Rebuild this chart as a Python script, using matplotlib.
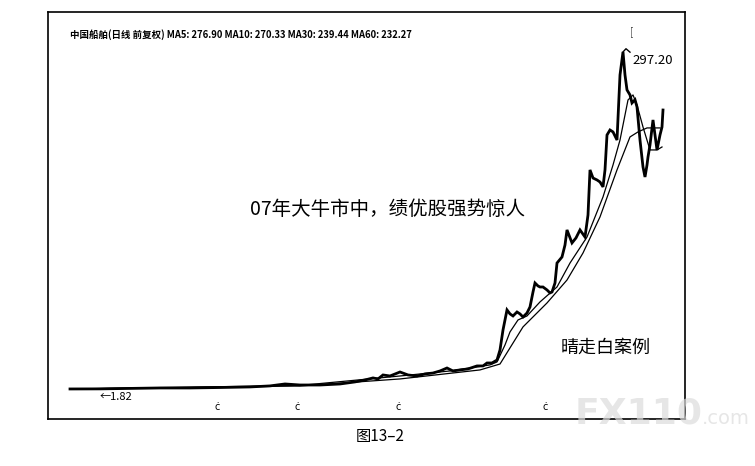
import matplotlib.pyplot as plt

plt.rcParams['font.family'] = ['Noto Sans CJK SC', 'DejaVu Sans']

# trading day index and close (front-adjusted)
days = [0, 30, 60, 90, 120, 150, 180, 200, 215, 230, 250, 270, 285, 295, 303, 308,
        313, 320, 330, 338, 347, 355, 363, 370, 377, 383, 390, 398, 407, 413, 417,
        422, 427, 430, 433, 435, 437, 440, 443, 447, 450, 453, 457, 460, 463, 465,
        468, 470, 473, 477, 480, 482, 485, 487, 492, 495, 497, 502, 506, 510, 515,
        518, 520, 523, 527, 530, 533, 535, 537, 540, 543, 547, 550, 553, 555, 557,
        560, 562, 565, 567, 570, 573, 575, 577, 578, 580, 583, 585, 587, 590, 592, 593]
close = [1.82, 1.9, 2.3, 2.7, 2.7, 3.1, 3.6, 4.5, 6.2, 5.3, 5.3, 6.2, 8.0, 9.7, 11.5, 10.6,
         14.1, 13.2, 16.7, 14.1, 13.2, 15.0, 15.8, 17.6, 20.2, 17.6, 18.5, 19.4, 22.0, 22.0, 24.6,
         24.6, 27.2, 36.0, 53.5, 62.3, 71.1, 67.6, 65.8, 69.3, 67.6, 64.9, 68.4, 73.7, 86.8, 94.7,
         92.1, 91.2, 91.2, 88.6, 86.0, 86.8, 94.7, 112.2, 117.5, 128.0, 141.2, 129.8, 134.2, 141.2, 135.0,
         154.3, 193.8, 186.7, 185.0, 183.2, 178.9, 193.8, 224.4, 228.8, 227.1, 220.0, 277.0, 297.2, 277.0, 263.9,
         259.5, 252.5, 255.3, 249.0, 220.0, 196.4, 187.6, 198.1, 205.1, 215.7, 237.6, 224.4, 211.3, 224.4, 231.4, 246.3]

ma10_days = [0, 230, 330, 380, 420, 427, 435, 440, 448, 457, 470, 487, 500, 517, 533,
             543, 550, 558, 563, 567, 573, 580, 587, 592]
ma10 = [1.8, 4.9, 13.2, 17.6, 22.9, 25.5, 40.4, 51.8, 62.3, 65.8, 78.1, 91.2, 112.2, 135.0, 170.1,
        198.1, 220.0, 255.1, 259.5, 250.7, 231.4, 211.3, 211.3, 213.9]

ma30_days = [0, 230, 330, 410, 430, 453, 477, 497, 513, 530, 547, 560, 568, 577, 590]
ma30 = [1.8, 4.45, 10.6, 18.5, 23.7, 56.2, 77.2, 97.3, 121.0, 152.6, 193.8, 222.7, 227.1, 230.6, 230.6]

mark_days = [147, 227, 328, 475]

title = "中国船舶(日线 前复权) MA5: 276.90 MA10: 270.33 MA30: 239.44 MA60: 232.27"

fig = plt.figure(figsize=(7.55, 4.66), dpi=100)
ax = fig.add_axes([48 / 755, 1 - 419 / 466, 637 / 755, 407 / 466])

ax.plot(days, close, color='black', lw=2.0, solid_joinstyle='miter')
ax.plot(ma10_days, ma10, color='black', lw=0.9)
ax.plot(ma30_days, ma30, color='black', lw=0.9)

ax.set_xlim(-22, 615)
ax.set_ylim(-24.5, 332.2)
ax.set_xticks([])
ax.set_yticks([])
for s in ax.spines.values():
    s.set_linewidth(1.2)

ax.text(0.035, 0.945, title, transform=ax.transAxes, fontsize=6.8, fontweight='bold',
        va='center', ha='left')
ax.text(0.913, 0.953, "[", transform=ax.transAxes, fontsize=7, color='#444444', va='center')

# peak label
ax.plot([553, 556, 560], [297.2, 300, 297], color='black', lw=1)
ax.text(562, 290, "297.20", fontsize=9.5, va='center', ha='left')
ax.text(30, -5, "←1.82", fontsize=8, va='center', ha='left')

for d in mark_days:
    ax.text(d, -14, "ċ", fontsize=7, ha='center', va='center')

ax.text(0.533, 0.515, "07年大牛市中，绩优股强势惊人", transform=ax.transAxes,
        fontsize=14, ha='center', va='center')
ax.text(0.876, 0.175, "晴走白案例", transform=ax.transAxes, fontsize=13,
        ha='center', va='center')

fig.text(380 / 755, 1 - 437 / 466, "图13–2", fontsize=11, ha='center', va='center')

# watermark
fig.text(575 / 755, 1 - 413 / 466, "FX110", fontsize=26, fontweight='bold',
         color='#dcdcdc', alpha=0.7, ha='left', va='center', family='DejaVu Sans')
fig.text(702 / 755, 1 - 419 / 466, ".com", fontsize=14, color='#dcdcdc', alpha=0.7,
         ha='left', va='center', family='DejaVu Sans')

fig.savefig('out.png', dpi=100)
